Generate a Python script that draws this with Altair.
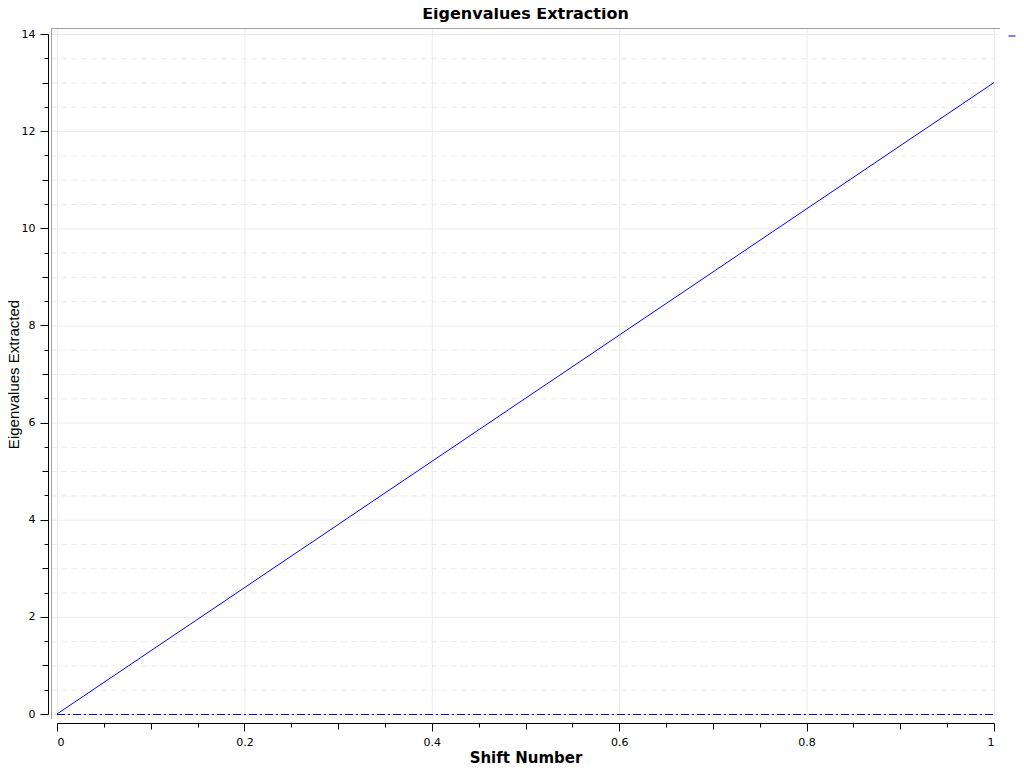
import altair as alt
import pandas as pd

# Series data
shift = [0, 1]
eigen = [0, 13]
zero_shift = [0, 1]
zero_vals = [0, 0]

# Tick / grid values
y_all = [i * 0.5 for i in range(0, 29)]
y_major = [0, 2, 4, 6, 8, 10, 12, 14]
y_minor = [v for v in y_all if v % 2 != 0]
x_all = [round(i * 0.05, 2) for i in range(0, 21)]
x_major = [0, 0.2, 0.4, 0.6, 0.8, 1.0]

W, H = 937, 680
GRID = "#ebebeb"
FRAME = "#a0a0a0"
TICKFONT = "DejaVu Sans"

xs = alt.Scale(domain=[0, 1], nice=False, zero=False)
ys = alt.Scale(domain=[0, 14], nice=False, zero=False)

x_axis = alt.Axis(
    title="Shift Number",
    values=x_all,
    labelExpr="round(datum.value*100) % 20 === 0 ? format(datum.value, '~g') : ''",
    labelOverlap=False,
    grid=False,
    offset=9,
    domainColor="black",
    tickColor="black",
    tickSize={
        "condition": [
            {"test": "round(datum.value*100) % 20 === 0", "value": 8},
            {"test": "round(datum.value*100) % 10 === 0", "value": 6},
        ],
        "value": 4,
    },
    labelFont=TICKFONT,
    labelFontSize=11,
    labelColor="black",
    labelPadding=5,
    titleFont=TICKFONT,
    titleFontSize=15,
    titleFontWeight="bold",
    titleColor="black",
    titlePadding=3,
)
y_axis = alt.Axis(
    title="Eigenvalues Extracted",
    values=y_all,
    labelExpr="datum.value % 2 === 0 ? format(datum.value, '~g') : ''",
    labelOverlap=False,
    grid=False,
    offset=9,
    domainColor="black",
    tickColor="black",
    tickSize={
        "condition": [
            {"test": "datum.value % 2 === 0", "value": 8},
            {"test": "datum.value % 1 === 0", "value": 6},
        ],
        "value": 4,
    },
    labelFont=TICKFONT,
    labelFontSize=11,
    labelColor="black",
    labelPadding=5,
    titleFont="Liberation Sans",
    titleFontSize=15,
    titleFontWeight="normal",
    titleColor="black",
    titlePadding=0,
)

main_df = pd.DataFrame({"shift": shift, "eig": eigen, "series": ["Eigenvalues"] * 2})
zero_df = pd.DataFrame({"shift": zero_shift, "eig": zero_vals})

vgrid = alt.Chart(pd.DataFrame({"shift": x_major})).mark_rule(
    color=GRID, strokeWidth=1, xOffset=0.5
).encode(x=alt.X("shift:Q", scale=xs, axis=x_axis), y=alt.value(-6), y2=alt.value(H + 5))
hgrid = alt.Chart(pd.DataFrame({"eig": y_major})).mark_rule(
    color=GRID, strokeWidth=1, yOffset=0.5
).encode(y=alt.Y("eig:Q", scale=ys, axis=y_axis), x=alt.value(-6), x2=alt.value(W + 4))
hgrid_minor = alt.Chart(pd.DataFrame({"eig": y_minor})).mark_rule(
    color=GRID, strokeWidth=1, strokeDash=[6, 4], yOffset=0.5
).encode(y=alt.Y("eig:Q", scale=ys, axis=y_axis), x=alt.value(-6), x2=alt.value(W + 4))

frame_top = alt.Chart(pd.DataFrame({"k": [1]})).mark_rule(
    color=FRAME, strokeWidth=1, yOffset=0.5
).encode(y=alt.value(-6), x=alt.value(-6), x2=alt.value(W + 6))
frame_left = alt.Chart(pd.DataFrame({"k": [1]})).mark_rule(
    color=FRAME, strokeWidth=1, xOffset=0.5
).encode(x=alt.value(-6), y=alt.value(-6), y2=alt.value(H + 5))

zero_line = alt.Chart(zero_df).mark_line(
    color="#0000ff", strokeWidth=1, strokeDash=[8, 3, 2, 3], yOffset=0.5
).encode(x=alt.X("shift:Q", scale=xs, axis=x_axis), y=alt.Y("eig:Q", scale=ys, axis=y_axis))

main_line = alt.Chart(main_df).mark_line(strokeWidth=1).encode(
    x=alt.X("shift:Q", scale=xs, axis=x_axis),
    y=alt.Y("eig:Q", scale=ys, axis=y_axis),
    color=alt.Color(
        "series:N",
        scale=alt.Scale(range=["#0000ff"]),
        legend=alt.Legend(
            orient="none",
            legendX=950,
            legendY=-3,
            title=None,
            labelExpr="''",
            symbolType="stroke",
            symbolSize=49,
            symbolStrokeWidth=1,
            padding=0,
        ),
    ),
)

chart = alt.layer(vgrid, hgrid, hgrid_minor, frame_top, frame_left, zero_line, main_line).properties(
    width=W,
    height=H,
    title=alt.TitleParams(
        "Eigenvalues Extraction",
        font=TICKFONT,
        fontSize=16,
        fontWeight="bold",
        color="black",
        anchor="middle",
        offset=6,
    ),
    autosize=alt.AutoSizeParams(type="none"),
    padding={"left": 49, "top": 26, "right": 22, "bottom": 52},
).configure_view(stroke=None).configure(background="white")

chart.save("out.html", embed_options={"renderer": "svg", "actions": False})
